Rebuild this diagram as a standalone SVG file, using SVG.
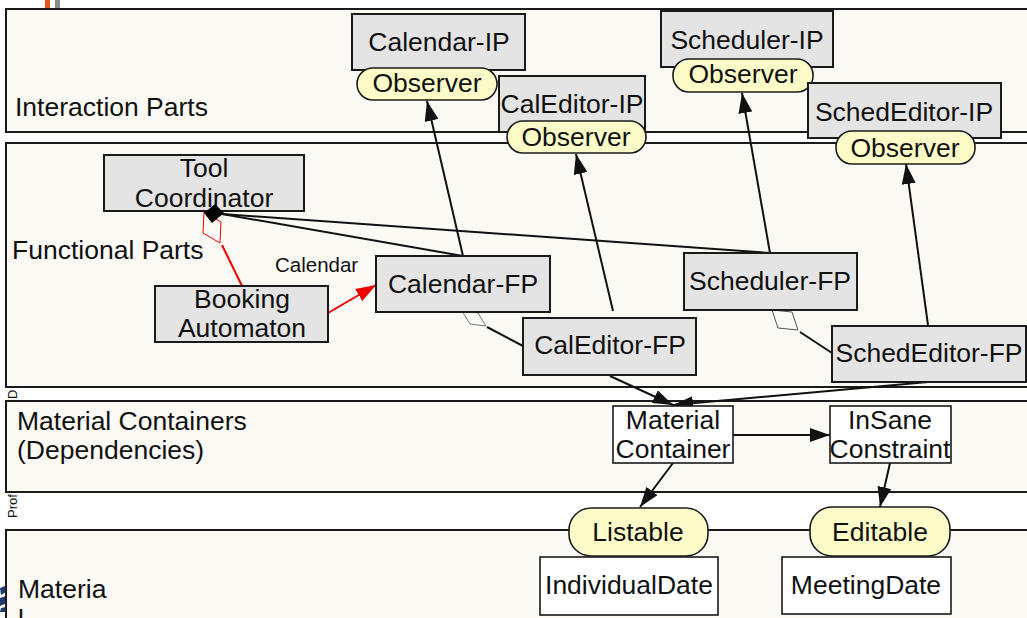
<svg xmlns="http://www.w3.org/2000/svg" width="1027" height="618" viewBox="0 0 1027 618">
  <style>
    text { font-family: "Liberation Sans", Arial, sans-serif; fill: #111; }
    .band { fill: #faf9f4; stroke: #1a1a1a; stroke-width: 2; }
    .box { fill: #e4e4e4; stroke: #1a1a1a; stroke-width: 2; }
    .wbox { fill: #ffffff; stroke: #1a1a1a; stroke-width: 1.6; }
    .pill { fill: #fcfcc8; stroke: #1a1a1a; stroke-width: 1.6; }
    .lbl { font-size: 26.5px; text-anchor: middle; }
    .band-lbl { font-size: 26.5px; }
    .edge { fill: none; stroke: #111; stroke-width: 2; }
    .red { fill: none; stroke: #ee0000; stroke-width: 2; }
  </style>
  <defs>
    <marker id="arrow" viewBox="0 0 20 14" refX="20" refY="7" markerWidth="20" markerHeight="14" markerUnits="userSpaceOnUse" orient="auto">
      <path d="M0,0 L20,7 L0,14 z" fill="#111"/>
    </marker>
    <marker id="arrow-red" viewBox="0 0 20 14" refX="20" refY="7" markerWidth="20" markerHeight="14" markerUnits="userSpaceOnUse" orient="auto">
      <path d="M0,0 L20,7 L0,14 z" fill="#ee0000"/>
    </marker>
  </defs>

  <rect width="1027" height="618" fill="#ffffff"/>

  <!-- header marks -->
  <rect x="45" y="0" width="5" height="8" fill="#e0561c"/>
  <rect x="55" y="0" width="5" height="8" fill="#8a8a8a"/>

  <!-- footer side text, mostly covered by the bands -->
  <text font-size="13" transform="translate(17,399) rotate(-90)">D</text>
  <text font-size="13" transform="translate(17,518) rotate(-90)">Prof.</text>

  <!-- logo fragment -->
  <g fill="#1f3a6e">
    <path d="M0,588 L5,586 L6,592 L1,595 z"/>
    <path d="M0,598 L6,596 L7,603 L0,606 z"/>
    <path d="M1,608 L6,607 L5,612 L0,612 z"/>
  </g>

  <!-- layer bands -->
  <g id="bands">
    <rect class="band" x="6" y="9" width="1040" height="123"/>
    <text class="band-lbl" x="15" y="116">Interaction Parts</text>
    <rect class="band" x="6" y="143" width="1040" height="244"/>
    <text class="band-lbl" x="12" y="259">Functional Parts</text>
    <rect class="band" x="6" y="401" width="1040" height="91"/>
    <text class="band-lbl" x="17" y="430">Material Containers</text>
    <text class="band-lbl" x="17" y="459">(Dependencies)</text>
    <rect class="band" x="6" y="530" width="1040" height="100"/>
    <text class="band-lbl" x="18" y="598">Materia</text>
    <text class="band-lbl" x="18" y="628">l</text>
  </g>

  <!-- connectors -->
  <g id="connectors">
    <path class="edge" d="M463,256 L427,101" marker-end="url(#arrow)"/>
    <path class="edge" d="M613,311 L576,154" marker-end="url(#arrow)"/>
    <path class="edge" d="M770,253 L742,93" marker-end="url(#arrow)"/>
    <path class="edge" d="M928,325 L906,164" marker-end="url(#arrow)"/>
    <path class="edge" d="M222,214 L463,256"/>
    <path class="edge" d="M222,214 L770,253"/>
    <path class="red" d="M222,245 L242,286"/>
    <polygon points="220,243 203,233 204,212 221,222" fill="#faf9f4" stroke="#ee0000" stroke-width="1"/>
    <path class="red" d="M328,313 L376,285" marker-end="url(#arrow-red)"/>
    <polygon points="486,326 470,324 462,311 478,313" fill="#faf9f4" stroke="#777" stroke-width="1"/>
    <path class="edge" d="M487,327 L523,346"/>
    <polygon points="798,330 778,328 772,310 792,312" fill="#faf9f4" stroke="#555" stroke-width="1"/>
    <path class="edge" d="M800,332 L832,353"/>
    <path class="edge" d="M610,376 L673,405" marker-end="url(#arrow)"/>
    <path class="edge" d="M928,382 L673,405" marker-end="url(#arrow)"/>
    <path class="edge" d="M733,435 L830,435" marker-end="url(#arrow)"/>
    <path class="edge" d="M673,463 L640,507" marker-end="url(#arrow)"/>
    <path class="edge" d="M890,463 L880,507" marker-end="url(#arrow)"/>
    <text x="275" y="272" font-size="20.5">Calendar</text>
  </g>

  <!-- interaction parts -->
  <g id="calendar-ip">
    <rect class="box" x="352" y="14" width="173" height="56"/>
    <text class="lbl" x="439" y="51">Calendar-IP</text>
  </g>
  <g id="calendar-ip-observer">
    <rect class="pill" x="357" y="68" width="140" height="32" rx="16"/>
    <text class="lbl" x="427" y="92">Observer</text>
  </g>
  <g id="caleditor-ip">
    <rect class="box" x="499" y="76" width="146" height="56"/>
    <text class="lbl" x="572" y="113">CalEditor-IP</text>
  </g>
  <g id="caleditor-ip-observer">
    <rect class="pill" x="507" y="121" width="139" height="32" rx="16"/>
    <text class="lbl" x="576" y="146">Observer</text>
  </g>
  <g id="scheduler-ip">
    <rect class="box" x="661" y="11" width="172" height="56"/>
    <text class="lbl" x="747" y="49">Scheduler-IP</text>
  </g>
  <g id="scheduler-ip-observer">
    <rect class="pill" x="673" y="59" width="140" height="33" rx="16"/>
    <text class="lbl" x="743" y="83">Observer</text>
  </g>
  <g id="schededitor-ip">
    <rect class="box" x="808" y="83" width="193" height="55"/>
    <text class="lbl" x="904" y="121">SchedEditor-IP</text>
  </g>
  <g id="schededitor-ip-observer">
    <rect class="pill" x="836" y="131" width="139" height="33" rx="16"/>
    <text class="lbl" x="905" y="157">Observer</text>
  </g>

  <!-- functional parts -->
  <g id="tool-coordinator">
    <rect class="box" x="104" y="155" width="200" height="56"/>
    <text class="lbl" x="204" y="177">Tool</text>
    <text class="lbl" x="204" y="207">Coordinator</text>
  </g>
  <g id="booking-automaton">
    <rect class="box" x="155" y="286" width="173" height="56"/>
    <text class="lbl" x="242" y="308">Booking</text>
    <text class="lbl" x="242" y="337">Automaton</text>
  </g>
  <g id="calendar-fp">
    <rect class="box" x="376" y="256" width="174" height="56"/>
    <text class="lbl" x="463" y="293">Calendar-FP</text>
  </g>
  <g id="scheduler-fp">
    <rect class="box" x="684" y="253" width="173" height="57"/>
    <text class="lbl" x="770" y="290">Scheduler-FP</text>
  </g>
  <g id="caleditor-fp">
    <rect class="box" x="523" y="318" width="173" height="57"/>
    <text class="lbl" x="610" y="354">CalEditor-FP</text>
  </g>
  <g id="schededitor-fp">
    <rect class="box" x="832" y="326" width="194" height="56"/>
    <text class="lbl" x="929" y="362">SchedEditor-FP</text>
  </g>

  <!-- composition diamond sits on top of the coordinator's border -->
  <g id="connector-ends">
    <polygon points="204,213 215,204 224,213 212,223" fill="#000"/>
  </g>

  <!-- material containers -->
  <g id="material-container">
    <rect class="wbox" x="613" y="406" width="120" height="57"/>
    <text class="lbl" x="673" y="429">Material</text>
    <text class="lbl" x="673" y="458">Container</text>
  </g>
  <g id="insane-constraint">
    <rect class="wbox" x="830" y="406" width="121" height="57"/>
    <text class="lbl" x="890" y="429">InSane</text>
    <text class="lbl" x="890" y="458">Constraint</text>
  </g>

  <!-- materials -->
  <g id="individual-date">
    <rect class="wbox" x="540" y="557" width="178" height="58"/>
    <text class="lbl" x="629" y="594">IndividualDate</text>
  </g>
  <g id="listable">
    <rect class="pill" x="569" y="508" width="139" height="48" rx="22"/>
    <text class="lbl" x="638" y="541">Listable</text>
  </g>
  <g id="meeting-date">
    <rect class="wbox" x="782" y="557" width="169" height="57"/>
    <text class="lbl" x="866" y="594">MeetingDate</text>
  </g>
  <g id="editable">
    <rect class="pill" x="810" y="507" width="140" height="49" rx="22"/>
    <text class="lbl" x="880" y="541">Editable</text>
  </g>
</svg>
